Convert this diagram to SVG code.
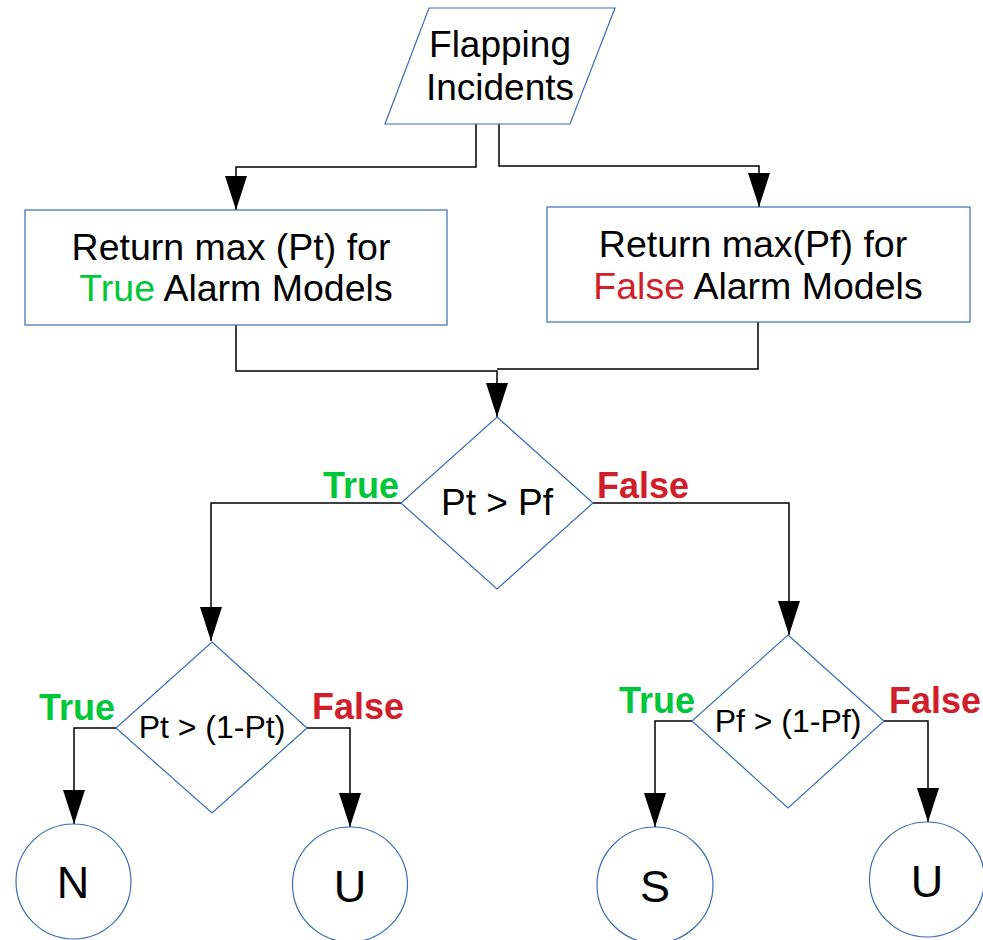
<svg xmlns="http://www.w3.org/2000/svg" width="983" height="940" viewBox="0 0 983 940">
<style>
.node{fill:#fff;stroke:#3b6db3;stroke-width:1.2}
.t{font-family:"Liberation Sans",Arial,sans-serif;fill:#000;text-anchor:middle}
.lbl{font-family:"Liberation Sans",Arial,sans-serif;font-weight:bold;font-size:36px}
.g{fill:#00c639}
.r{fill:#d01f2a}
.c{fill:none;stroke:#000;stroke-width:1.5}
</style>
<defs>
<marker id="ah" markerUnits="userSpaceOnUse" markerWidth="34" markerHeight="22" viewBox="0 0 34 22" refX="34" refY="11" orient="auto">
<path d="M0,0 L34,11 L0,22 z" fill="#000"/>
</marker>
</defs>
<rect width="983" height="940" fill="#fff"/>
<g id="connectors">
<polyline class="c" points="476,124 476,167 236,167 236,210" marker-end="url(#ah)"/>
<polyline class="c" points="499,124 499,166 759,166 759,207" marker-end="url(#ah)"/>
<polyline class="c" points="236,325 236,371 497,371 497,417" marker-end="url(#ah)"/>
<polyline class="c" points="758,322 758,369 497,369"/>
<polyline class="c" points="401,503 211,503 211,641" marker-end="url(#ah)"/>
<polyline class="c" points="593,503 789,503 789,635" marker-end="url(#ah)"/>
<polyline class="c" points="116,728 74,728 74,824" marker-end="url(#ah)"/>
<polyline class="c" points="307,728 350,728 350,827" marker-end="url(#ah)"/>
<polyline class="c" points="692,721 655,721 655,827" marker-end="url(#ah)"/>
<polyline class="c" points="884,721 928,721 928,822" marker-end="url(#ah)"/>
</g>
<g id="input">
<polygon class="node" points="429,8 615,8 570,124 385,124"/>
<text class="t" x="500" y="57" font-size="37">Flapping</text>
<text class="t" x="500" y="100" font-size="37">Incidents</text>
</g>
<g id="boxTrue">
<rect class="node" x="25" y="210" width="422" height="115"/>
<text class="t" x="231" y="260" font-size="37.5">Return max (Pt) for</text>
<text class="t" x="236" y="301" font-size="37.5"><tspan class="g">True</tspan> Alarm Models</text>
</g>
<g id="boxFalse">
<rect class="node" x="547" y="207" width="423" height="115"/>
<text class="t" x="753" y="257" font-size="37.5">Return max(Pf) for</text>
<text class="t" x="758" y="299" font-size="37.5"><tspan class="r">False</tspan> Alarm Models</text>
</g>
<g id="dec1">
<polygon class="node" points="497,417 593,503 497,589 401,503"/>
<text class="t" x="497" y="515" font-size="37">Pt &gt; Pf</text>
</g>
<g id="dec2">
<polygon class="node" points="212,642 307,728 212,813 116,728"/>
<text class="t" x="212" y="738" font-size="32">Pt &gt; (1-Pt)</text>
</g>
<g id="dec3">
<polygon class="node" points="788,635 884,721 788,808 692,721"/>
<text class="t" x="788" y="732" font-size="32">Pf &gt; (1-Pf)</text>
</g>
<g id="labels">
<text class="lbl g" x="323" y="498">True</text>
<text class="lbl r" x="597" y="498">False</text>
<text class="lbl g" x="39" y="720">True</text>
<text class="lbl r" x="312" y="719">False</text>
<text class="lbl g" x="619" y="713">True</text>
<text class="lbl r" x="889" y="713">False</text>
</g>
<g id="nodeN">
<circle class="node" cx="73.5" cy="881.5" r="57.5"/>
<text class="t" x="73" y="898" font-size="45">N</text>
</g>
<g id="nodeU1">
<circle class="node" cx="350" cy="884.5" r="57.5"/>
<text class="t" x="350" y="902" font-size="45">U</text>
</g>
<g id="nodeS">
<circle class="node" cx="655" cy="885" r="58"/>
<text class="t" x="655" y="902" font-size="45">S</text>
</g>
<g id="nodeU2">
<circle class="node" cx="927" cy="879.5" r="57.5"/>
<text class="t" x="927" y="897" font-size="45">U</text>
</g>
</svg>
